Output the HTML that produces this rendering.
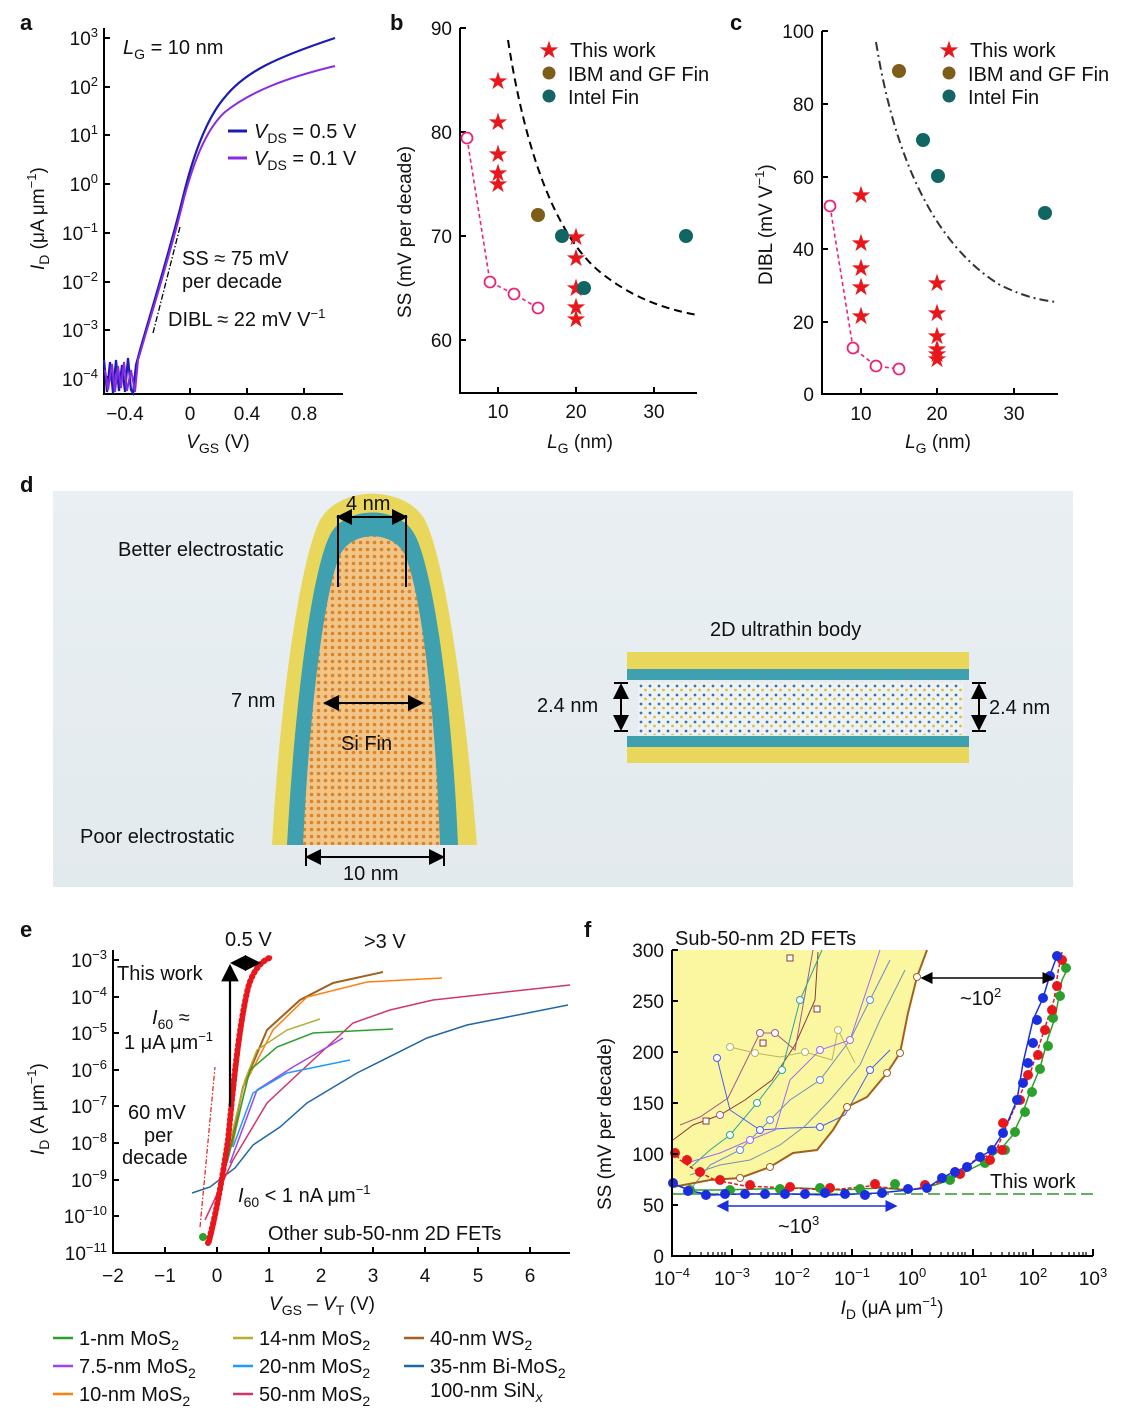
<!DOCTYPE html>
<html><head><meta charset="utf-8"><style>
html,body{margin:0;padding:0;background:#fff;}
svg{display:block;font-family:"Liberation Sans",Arial,sans-serif;}
</style></head><body>
<svg width="1132" height="1414" viewBox="0 0 1132 1414" xmlns="http://www.w3.org/2000/svg">
<defs>
<pattern id="dots" width="7" height="7" patternUnits="userSpaceOnUse"><rect width="7" height="7" fill="#f1c487"/><circle cx="3.5" cy="3.5" r="1.8" fill="#d9852a"/></pattern>
<pattern id="lat" width="9" height="9" patternUnits="userSpaceOnUse"><rect width="9" height="9" fill="#eef2f3"/><circle cx="2" cy="2" r="1.4" fill="#3a6fb0"/><circle cx="6.5" cy="6" r="1.4" fill="#d8c23a"/></pattern>
<linearGradient id="bg" x1="0" y1="0" x2="0" y2="1"><stop offset="0" stop-color="#e9eff2"/><stop offset="1" stop-color="#e3eaee"/></linearGradient>
<marker id="ah" markerWidth="8" markerHeight="8" refX="7" refY="4" orient="auto-start-reverse"><path d="M0,0 L8,4 L0,8 z" fill="#000"/></marker>
<marker id="ahb" markerWidth="8" markerHeight="8" refX="7" refY="4" orient="auto-start-reverse"><path d="M0,0 L8,4 L0,8 z" fill="#1a2ee0"/></marker>
</defs>
<g font-size="20" fill="#111">
<!-- Panel a -->
<text x="20" y="30" font-weight="bold" font-size="22">a</text>
<path d="M104,28 V394 H343" fill="none" stroke="#000" stroke-width="2"/>
<g stroke="#000" stroke-width="2">
<path d="M104,38 h6 M104,87 h6 M104,135 h6 M104,184 h6 M104,233 h6 M104,282 h6 M104,330 h6 M104,377 h6"/>
<path d="M190,394 v-6 M247,394 v-6 M304,394 v-6"/>
</g>
<g text-anchor="end" font-size="19">
<text x="98" y="45">10<tspan dy="-8" font-size="13">3</tspan></text>
<text x="98" y="94">10<tspan dy="-8" font-size="13">2</tspan></text>
<text x="98" y="142">10<tspan dy="-8" font-size="13">1</tspan></text>
<text x="98" y="191">10<tspan dy="-8" font-size="13">0</tspan></text>
<text x="98" y="240">10<tspan dy="-8" font-size="13">−1</tspan></text>
<text x="98" y="289">10<tspan dy="-8" font-size="13">−2</tspan></text>
<text x="98" y="337">10<tspan dy="-8" font-size="13">−3</tspan></text>
<text x="98" y="386">10<tspan dy="-8" font-size="13">−4</tspan></text>
</g>
<g text-anchor="middle" font-size="19">
<text x="125" y="420">−0.4</text><text x="190" y="420">0</text><text x="247" y="420">0.4</text><text x="304" y="420">0.8</text>
<text x="218" y="448"><tspan font-style="italic">V</tspan><tspan font-size="14" dy="5">GS</tspan><tspan dy="-5"> (V)</tspan></text>
</g>
<text transform="translate(44,270) rotate(-90)" font-size="19"><tspan font-style="italic">I</tspan><tspan font-size="14" dy="5">D</tspan><tspan dy="-5"> (μA μm</tspan><tspan font-size="13" dy="-8">−1</tspan><tspan dy="8">)</tspan></text>
<text x="123" y="54" font-size="20"><tspan font-style="italic">L</tspan><tspan font-size="14" dy="5">G</tspan><tspan dy="-5"> = 10 nm</tspan></text>
<path d="M104,360 L107,392 L110,362 L113,393 L116,360 L119,391 L122,365 L125,392 L128,358 L131,390 L133,393 L136,365 L140,350 C150,315 170,250 183,197 C192,160 205,120 225,97 C245,72 275,58 335,38" fill="none" stroke="#1c1cb0" stroke-width="2.2"/>
<path d="M105,370 L108,390 L112,364 L115,392 L118,366 L121,388 L124,362 L127,391 L131,370 L135,392 L138,360 L141,350 C151,315 171,252 184,198 C193,165 205,130 225,112 C250,92 285,78 335,66" fill="none" stroke="#8a2be2" stroke-width="2"/>
<path d="M180,227 L153,333" stroke="#000" stroke-width="1.3" stroke-dasharray="6,2,1.5,2"/>
<path d="M228,131 h19" stroke="#1c1cb0" stroke-width="3"/>
<path d="M228,158 h19" stroke="#8a2be2" stroke-width="3"/>
<text x="254" y="138"><tspan font-style="italic">V</tspan><tspan font-size="14" dy="5">DS</tspan><tspan dy="-5"> = 0.5 V</tspan></text>
<text x="254" y="165"><tspan font-style="italic">V</tspan><tspan font-size="14" dy="5">DS</tspan><tspan dy="-5"> = 0.1 V</tspan></text>
<text x="182" y="265">SS ≈ 75 mV</text>
<text x="182" y="288">per decade</text>
<text x="168" y="326">DIBL ≈ 22 mV V<tspan font-size="13" dy="-8">−1</tspan></text>

<!-- Panel b -->
<text x="390" y="30" font-weight="bold" font-size="22">b</text>
<path d="M460,28 V393 H697" fill="none" stroke="#000" stroke-width="2"/>
<g stroke="#000" stroke-width="2"><path d="M460,28 h6 M460,132 h6 M460,236 h6 M460,340 h6 M498,393 v-6 M576,393 v-6 M654,393 v-6"/></g>
<g text-anchor="end" font-size="19"><text x="452" y="35">90</text><text x="452" y="139">80</text><text x="452" y="243">70</text><text x="452" y="347">60</text></g>
<g text-anchor="middle" font-size="19"><text x="498" y="418">10</text><text x="576" y="418">20</text><text x="654" y="418">30</text>
<text x="580" y="448"><tspan font-style="italic">L</tspan><tspan font-size="14" dy="5">G</tspan><tspan dy="-5"> (nm)</tspan></text></g>
<text transform="translate(411,318) rotate(-90)" font-size="19">SS (mV per decade)</text>
<path d="M508,40 C525,150 555,235 600,272 C630,296 660,308 697,315" fill="none" stroke="#000" stroke-width="2" stroke-dasharray="8,5"/>
<path d="M467,138 L490,282 L514,294 L538,308" fill="none" stroke="#e8257a" stroke-width="1.6" stroke-dasharray="4,3"/>
<g fill="#fff" stroke="#e8257a" stroke-width="1.8"><circle cx="467" cy="138" r="5.5"/><circle cx="490" cy="282" r="5.5"/><circle cx="514" cy="294" r="5.5"/><circle cx="538" cy="308" r="5.5"/></g>
<g fill="#e8171c" font-size="24" text-anchor="middle">
<text x="498" y="89">★</text><text x="498" y="130">★</text><text x="498" y="162">★</text><text x="498" y="181">★</text><text x="498" y="192">★</text>
<text x="576" y="245">★</text><text x="576" y="266">★</text><text x="576" y="296">★</text><text x="576" y="315">★</text><text x="576" y="327">★</text>
<text x="549" y="58">★</text></g>
<circle cx="538" cy="215" r="7" fill="#7d5d18"/>
<g fill="#0f6663"><circle cx="562" cy="236" r="7"/><circle cx="584" cy="288" r="7"/><circle cx="686" cy="236" r="7"/><circle cx="549" cy="96" r="6.5"/></g>
<circle cx="549" cy="73" r="6.5" fill="#7d5d18"/>
<text x="570" y="57">This work</text><text x="568" y="81">IBM and GF Fin</text><text x="568" y="104">Intel Fin</text>

<!-- Panel c -->
<text x="730" y="30" font-weight="bold" font-size="22">c</text>
<path d="M822,31 V394 H1058" fill="none" stroke="#000" stroke-width="2"/>
<g stroke="#000" stroke-width="2"><path d="M822,31 h6 M822,104 h6 M822,177 h6 M822,249 h6 M822,322 h6 M861,394 v-6 M937,394 v-6 M1014,394 v-6"/></g>
<g text-anchor="end" font-size="19"><text x="814" y="38">100</text><text x="814" y="111">80</text><text x="814" y="184">60</text><text x="814" y="256">40</text><text x="814" y="329">20</text><text x="814" y="401">0</text></g>
<g text-anchor="middle" font-size="19"><text x="861" y="420">10</text><text x="937" y="420">20</text><text x="1014" y="420">30</text>
<text x="938" y="448"><tspan font-style="italic">L</tspan><tspan font-size="14" dy="5">G</tspan><tspan dy="-5"> (nm)</tspan></text></g>
<text transform="translate(772,285) rotate(-90)" font-size="19">DIBL (mV V<tspan font-size="13" dy="-8">−1</tspan><tspan dy="8">)</tspan></text>
<path d="M876,42 C895,160 935,245 1000,285 C1025,297 1040,300 1056,302" fill="none" stroke="#333" stroke-width="2" stroke-dasharray="9,4,2,4"/>
<path d="M830,206 L853,348 L876,366 L899,369" fill="none" stroke="#e8257a" stroke-width="1.6" stroke-dasharray="4,3"/>
<g fill="#fff" stroke="#e8257a" stroke-width="1.8"><circle cx="830" cy="206" r="5.5"/><circle cx="853" cy="348" r="5.5"/><circle cx="876" cy="366" r="5.5"/><circle cx="899" cy="369" r="5.5"/></g>
<g fill="#e8171c" font-size="24" text-anchor="middle">
<text x="861" y="203">★</text><text x="861" y="251">★</text><text x="861" y="276">★</text><text x="861" y="295">★</text><text x="861" y="324">★</text>
<text x="937" y="291">★</text><text x="937" y="321">★</text><text x="937" y="344">★</text><text x="937" y="357">★</text><text x="937" y="362">★</text><text x="937" y="367">★</text>
<text x="949" y="58">★</text></g>
<circle cx="899" cy="71" r="7" fill="#7d5d18"/>
<g fill="#0f6663"><circle cx="923" cy="140" r="7"/><circle cx="938" cy="176" r="7"/><circle cx="1045" cy="213" r="7"/><circle cx="949" cy="96" r="6.5"/></g>
<circle cx="949" cy="73" r="6.5" fill="#7d5d18"/>
<text x="970" y="57">This work</text><text x="968" y="81">IBM and GF Fin</text><text x="968" y="104">Intel Fin</text>

<!-- Panel d -->
<text x="20" y="492" font-weight="bold" font-size="22">d</text>
<rect x="53" y="491" width="1020" height="396" fill="url(#bg)"/>
<path d="M272,845 C280,700 300,560 320,520 C340,485 405,485 425,520 C445,560 465,700 477,845 Z" fill="#e8d75a"/>
<path d="M287,845 C295,700 312,570 330,535 C345,505 400,505 415,535 C433,570 452,700 458,845 Z" fill="#3fa0b0"/>
<path d="M303,845 C310,700 325,590 340,555 C352,530 393,530 405,555 C420,590 435,700 440,845 Z" fill="url(#dots)"/>
<g stroke="#000" stroke-width="2" fill="none">
<path d="M338,517 h68" marker-start="url(#ah)" marker-end="url(#ah)"/><path d="M338,515 v72 M406,515 v72"/>
<path d="M325,703 h97" marker-start="url(#ah)" marker-end="url(#ah)"/>
<path d="M307,857 h136" marker-start="url(#ah)" marker-end="url(#ah)"/><path d="M306,848 v18 M444,848 v18"/>
<path d="M621,685 v44" marker-start="url(#ah)" marker-end="url(#ah)"/><path d="M614,683 h14 M614,731 h14"/>
<path d="M979,685 v44" marker-start="url(#ah)" marker-end="url(#ah)"/><path d="M972,683 h14 M972,731 h14"/>
</g>
<text x="346" y="510">4 nm</text>
<text x="118" y="556">Better electrostatic</text>
<text x="231" y="707">7 nm</text>
<text x="341" y="750">Si Fin</text>
<text x="80" y="843">Poor electrostatic</text>
<text x="343" y="880">10 nm</text>
<text x="710" y="636">2D ultrathin body</text>
<rect x="627" y="652" width="342" height="17" fill="#e8d75a"/>
<rect x="627" y="669" width="342" height="11" fill="#3fa0b0"/>
<rect x="638" y="682" width="325" height="53" fill="url(#lat)"/>
<rect x="627" y="736" width="342" height="11" fill="#3fa0b0"/>
<rect x="627" y="747" width="342" height="16" fill="#e8d75a"/>
<text x="537" y="712">2.4 nm</text>
<text x="989" y="714">2.4 nm</text>

<!-- Panel e -->
<text x="20" y="937" font-weight="bold" font-size="22">e</text>
<path d="M113,950 V1253 H570" fill="none" stroke="#000" stroke-width="2"/>
<g stroke="#000" stroke-width="2"><path d="M113,960 h6 M113,997 h6 M113,1033 h6 M113,1070 h6 M113,1106 h6 M113,1143 h6 M113,1180 h6 M113,1216 h6 M165,1253 v-6 M217,1253 v-6 M269,1253 v-6 M321,1253 v-6 M373,1253 v-6 M425,1253 v-6 M478,1253 v-6 M530,1253 v-6"/></g>
<g text-anchor="end" font-size="19">
<text x="107" y="967">10<tspan dy="-8" font-size="13">−3</tspan></text>
<text x="107" y="1004">10<tspan dy="-8" font-size="13">−4</tspan></text>
<text x="107" y="1040">10<tspan dy="-8" font-size="13">−5</tspan></text>
<text x="107" y="1077">10<tspan dy="-8" font-size="13">−6</tspan></text>
<text x="107" y="1113">10<tspan dy="-8" font-size="13">−7</tspan></text>
<text x="107" y="1150">10<tspan dy="-8" font-size="13">−8</tspan></text>
<text x="107" y="1187">10<tspan dy="-8" font-size="13">−9</tspan></text>
<text x="107" y="1223">10<tspan dy="-8" font-size="13">−10</tspan></text>
<text x="107" y="1260">10<tspan dy="-8" font-size="13">−11</tspan></text>
</g>
<g text-anchor="middle" font-size="19"><text x="113" y="1282">−2</text><text x="165" y="1282">−1</text><text x="217" y="1282">0</text><text x="269" y="1282">1</text><text x="321" y="1282">2</text><text x="373" y="1282">3</text><text x="425" y="1282">4</text><text x="478" y="1282">5</text><text x="530" y="1282">6</text>
<text x="322" y="1310"><tspan font-style="italic">V</tspan><tspan font-size="14" dy="5">GS</tspan><tspan dy="-5"> – </tspan><tspan font-style="italic">V</tspan><tspan font-size="14" dy="5">T</tspan><tspan dy="-5"> (V)</tspan></text></g>
<text transform="translate(44,1155) rotate(-90)" font-size="19"><tspan font-style="italic">I</tspan><tspan font-size="14" dy="5">D</tspan><tspan dy="-5"> (A μm</tspan><tspan font-size="13" dy="-8">−1</tspan><tspan dy="8">)</tspan></text>
<g fill="none" stroke-width="1.5">
<path d="M192,1193 L210,1187 L235,1168 L253,1145 L280,1127 L307,1103 L357,1073 L427,1038 L467,1025 L568,1005" stroke="#2067a8"/>
<path d="M205,1220 L233,1160 L267,1103 L313,1060 L353,1023 L390,1010 L433,1000 L570,985" stroke="#d1356e"/>
<path d="M228,1157 L243,1087 L267,1030 L300,1000 L333,983 L383,972" stroke="#a0621e" stroke-width="2"/>
<path d="M232,1147 L247,1080 L273,1030 L307,997 L367,982 L442,978" stroke="#ff7f0e"/>
<path d="M228,1150 L245,1080 L257,1050 L287,1030 L320,1019" stroke="#b5ae35"/>
<path d="M227,1163 L250,1070 L277,1047 L313,1033 L393,1029" stroke="#2ca02c"/>
<path d="M230,1163 L257,1090 L293,1067 L343,1038" stroke="#9b45f0"/>
<path d="M233,1147 L253,1093 L287,1073 L350,1060" stroke="#1e9bff"/>
</g>
<path d="M200,1227 L215,1067" stroke="#e8171c" stroke-width="1.2" stroke-dasharray="5,2,1.5,2"/>
<path d="M208,1243 C215,1220 222,1180 228,1140 C233,1090 238,1030 248,988 C253,970 262,960 272,957" fill="none" stroke="#e8171c" stroke-width="6" stroke-dasharray="1,4" stroke-linecap="round"/>
<path d="M210,1243 C216,1220 223,1180 229,1140 C234,1090 240,1030 249,988 C254,970 262,960 272,957" fill="none" stroke="#e8171c" stroke-width="3"/>
<circle cx="203" cy="1237" r="4" fill="#2ca02c"/>
<path d="M230,1107 V966" stroke="#000" stroke-width="2.2" marker-end="url(#ah)"/>
<path d="M232,963 H259" stroke="#000" stroke-width="2" marker-start="url(#ah)" marker-end="url(#ah)"/>
<text x="225" y="946">0.5 V</text><text x="364" y="948">&gt;3 V</text>
<text x="117" y="980">This work</text>
<text x="152" y="1024" font-style="italic">I<tspan font-style="normal" font-size="14" dy="5">60</tspan><tspan font-style="normal" dy="-5"> ≈</tspan></text>
<text x="124" y="1049">1 μA μm<tspan font-size="13" dy="-8">−1</tspan></text>
<text x="128" y="1119">60 mV</text><text x="144" y="1142">per</text><text x="122" y="1164">decade</text>
<text x="238" y="1202" font-style="italic">I<tspan font-style="normal" font-size="14" dy="5">60</tspan><tspan font-style="normal" dy="-5"> &lt; 1 nA μm</tspan><tspan font-style="normal" font-size="13" dy="-8">−1</tspan></text>
<text x="268" y="1240">Other sub-50-nm 2D FETs</text>
<!-- legend -->
<g stroke-width="2.5">
<path d="M53,1338 h20" stroke="#2ca02c"/><path d="M53,1366 h20" stroke="#9b45f0"/><path d="M53,1394 h20" stroke="#ff7f0e"/>
<path d="M233,1338 h20" stroke="#b5ae35"/><path d="M233,1366 h20" stroke="#1e9bff"/><path d="M233,1394 h20" stroke="#d1356e"/>
<path d="M404,1338 h20" stroke="#a0621e"/><path d="M404,1366 h20" stroke="#2067a8"/>
</g>
<text x="79" y="1345">1-nm MoS<tspan font-size="14" dy="5">2</tspan></text>
<text x="79" y="1373">7.5-nm MoS<tspan font-size="14" dy="5">2</tspan></text>
<text x="79" y="1401">10-nm MoS<tspan font-size="14" dy="5">2</tspan></text>
<text x="259" y="1345">14-nm MoS<tspan font-size="14" dy="5">2</tspan></text>
<text x="259" y="1373">20-nm MoS<tspan font-size="14" dy="5">2</tspan></text>
<text x="259" y="1401">50-nm MoS<tspan font-size="14" dy="5">2</tspan></text>
<text x="430" y="1345">40-nm WS<tspan font-size="14" dy="5">2</tspan></text>
<text x="430" y="1373">35-nm Bi-MoS<tspan font-size="14" dy="5">2</tspan></text>
<text x="430" y="1397">100-nm SiN<tspan font-size="14" dy="5" font-style="italic">x</tspan></text>

<!-- Panel f -->
<text x="584" y="937" font-weight="bold" font-size="22">f</text>
<path d="M673,950 L927,950 L917,977 L908,1013 L900,1053 L887,1073 L867,1097 L847,1107 L833,1130 L817,1150 L793,1153 L770,1167 L740,1178 L710,1180 L673,1187 Z" fill="#fbf7a0"/>
<g fill="none" stroke-width="1">
<path d="M673,1140 L693,1125 L720,1115 L745,1100 L772,1080 L795,1045 L815,1000 L818,952" stroke="#8b3a3a"/>
<path d="M680,1125 L700,1117 L728,1098 L760,1033 L775,1033 L795,1050 L813,950" stroke="#a05a90"/>
<path d="M730,1047 L755,1053 L780,1057 L805,1052 L832,1060 L838,1030 L855,1063" stroke="#b9b36a"/>
<path d="M690,1168 L710,1150 L730,1135 L757,1103 L782,1070 L800,1000 L822,950" stroke="#2aa59b"/>
<path d="M717,1058 L730,1110 L760,1130 L790,1128 L820,1127 L845,1115 L870,1070 L890,1050" stroke="#4a5ef0"/>
<path d="M690,1162 L720,1153 L750,1140 L775,1130 L790,1080 L820,1050 L850,1040 L880,950" stroke="#a06af0"/>
<path d="M690,1190 L710,1165 L740,1150 L770,1120 L790,1100 L820,1080 L850,1040 L870,1000 L890,960" stroke="#6a8bd0"/>
<path d="M690,1175 L720,1165 L750,1160 L780,1145 L805,1126 L830,1100 L860,1065 L880,1020 L905,970" stroke="#7a8fb0"/>
<path d="M673,1187 L710,1180 L740,1178 L770,1167 L793,1153 L817,1150 L833,1130 L847,1107 L867,1097 L887,1073 L900,1053 L908,1013 L917,977 L927,950" stroke="#a0621e" stroke-width="2"/>
</g>
<g fill="#fff" stroke-width="1">
<g stroke="#8b3a3a"><rect x="703" y="1118" width="6" height="6"/><rect x="760" y="1040" width="6" height="6"/><rect x="814" y="1006" width="6" height="6"/><rect x="787" y="955" width="6" height="6"/></g>
<g stroke="#a05a90"><circle cx="760" cy="1033" r="3.5"/><circle cx="775" cy="1033" r="3.5"/><circle cx="720" cy="1115" r="3.5"/></g>
<g stroke="#b9b36a"><circle cx="730" cy="1047" r="3.5"/><circle cx="755" cy="1053" r="3.5"/><circle cx="805" cy="1052" r="3.5"/><circle cx="838" cy="1030" r="3.5"/></g>
<g stroke="#2aa59b"><circle cx="730" cy="1135" r="3.5"/><circle cx="757" cy="1103" r="3.5"/><circle cx="782" cy="1070" r="3.5"/><circle cx="800" cy="1000" r="3.5"/></g>
<g stroke="#4a5ef0"><circle cx="760" cy="1130" r="3.5"/><circle cx="820" cy="1127" r="3.5"/><circle cx="870" cy="1070" r="3.5"/><circle cx="717" cy="1058" r="3.5"/></g>
<g stroke="#a06af0"><circle cx="750" cy="1140" r="3.5"/><circle cx="820" cy="1050" r="3.5"/><circle cx="850" cy="1040" r="3.5"/></g>
<g stroke="#6a8bd0"><circle cx="770" cy="1120" r="3.5"/><circle cx="820" cy="1080" r="3.5"/><circle cx="870" cy="1000" r="3.5"/><circle cx="740" cy="1150" r="3.5"/></g>
<g stroke="#a0621e"><circle cx="847" cy="1107" r="3.5"/><circle cx="900" cy="1053" r="3.5"/><circle cx="770" cy="1167" r="3.5"/><circle cx="740" cy="1178" r="3.5"/><circle cx="917" cy="977" r="3.5"/><circle cx="887" cy="1073" r="3.5"/></g>
</g>
<path d="M673,1194 H1093" stroke="#2a9a2a" stroke-width="1.5" stroke-dasharray="12,5"/>
<g stroke-width="1.5" fill="none">
<path d="M673,1184 L690,1190 L720,1190 L760,1189 L800,1188 L840,1190 L880,1188 L910,1190 L935,1185 L950,1180 L965,1172 L985,1162 L1000,1150 L1012,1136 L1022,1115 L1030,1092 L1040,1068 L1048,1038 L1055,1018 L1062,980 L1068,968" stroke="#2ca02c"/>
<path d="M673,1150 L680,1160 L695,1170 L715,1180 L745,1186 L790,1188 L830,1190 L870,1186 L910,1190 L930,1186 L955,1175 L975,1160 L995,1153 L1008,1123 L1020,1095 L1030,1074 L1040,1043 L1048,1018 L1054,1000 L1058,972 L1062,952" stroke="#e8171c" stroke-dasharray="4,2"/>
<path d="M673,1183 L690,1191 L712,1195 L740,1194 L790,1194 L830,1195 L880,1193 L908,1190 L927,1188 L942,1178 L953,1172 L967,1167 L980,1157 L992,1150 L1003,1133 L1017,1100 L1023,1063 L1033,1020 L1043,998 L1050,975 L1057,956" stroke="#1a2ee0"/>
</g>
<g fill="#2ca02c"><circle cx="690" cy="1190" r="5"/><circle cx="730" cy="1190" r="5"/><circle cx="780" cy="1189" r="5"/><circle cx="820" cy="1188" r="5"/><circle cx="860" cy="1189" r="5"/><circle cx="895" cy="1184" r="5"/><circle cx="950" cy="1180" r="5"/><circle cx="985" cy="1163" r="5"/><circle cx="1005" cy="1150" r="5"/><circle cx="1015" cy="1132" r="5"/><circle cx="1025" cy="1112" r="5"/><circle cx="1032" cy="1092" r="5"/><circle cx="1040" cy="1069" r="5"/><circle cx="1048" cy="1046" r="5"/><circle cx="1053" cy="1018" r="5"/><circle cx="1060" cy="996" r="5"/><circle cx="1066" cy="968" r="5"/></g>
<g fill="#e8171c"><circle cx="675" cy="1153" r="5"/><circle cx="687" cy="1160" r="5"/><circle cx="700" cy="1172" r="5"/><circle cx="720" cy="1180" r="5"/><circle cx="750" cy="1185" r="5"/><circle cx="790" cy="1187" r="5"/><circle cx="830" cy="1188" r="5"/><circle cx="875" cy="1184" r="5"/><circle cx="925" cy="1185" r="5"/><circle cx="960" cy="1174" r="5"/><circle cx="990" cy="1160" r="5"/><circle cx="1002" cy="1150" r="5"/><circle cx="1003" cy="1123" r="5"/><circle cx="1020" cy="1100" r="5"/><circle cx="1028" cy="1075" r="5"/><circle cx="1038" cy="1055" r="5"/><circle cx="1045" cy="1030" r="5"/><circle cx="1052" cy="1010" r="5"/><circle cx="1057" cy="986" r="5"/><circle cx="1062" cy="960" r="5"/></g>
<g fill="#1a2ee0"><circle cx="673" cy="1183" r="5"/><circle cx="688" cy="1191" r="5"/><circle cx="706" cy="1195" r="5"/><circle cx="725" cy="1194" r="5"/><circle cx="745" cy="1194" r="5"/><circle cx="765" cy="1194" r="5"/><circle cx="785" cy="1194" r="5"/><circle cx="805" cy="1194" r="5"/><circle cx="825" cy="1193" r="5"/><circle cx="845" cy="1194" r="5"/><circle cx="865" cy="1195" r="5"/><circle cx="882" cy="1193" r="5"/><circle cx="908" cy="1189" r="5"/><circle cx="927" cy="1188" r="5"/><circle cx="942" cy="1178" r="5"/><circle cx="955" cy="1172" r="5"/><circle cx="967" cy="1167" r="5"/><circle cx="980" cy="1157" r="5"/><circle cx="992" cy="1150" r="5"/><circle cx="1003" cy="1133" r="5"/><circle cx="1017" cy="1100" r="5"/><circle cx="1023" cy="1083" r="5"/><circle cx="1028" cy="1063" r="5"/><circle cx="1033" cy="1043" r="5"/><circle cx="1037" cy="1020" r="5"/><circle cx="1043" cy="998" r="5"/><circle cx="1050" cy="976" r="5"/><circle cx="1057" cy="956" r="5"/></g>
<path d="M672,950 V1256 H1093" fill="none" stroke="#000" stroke-width="2"/>
<g stroke="#000" stroke-width="2"><path d="M672,950 h6 M672,1001 h6 M672,1052 h6 M672,1103 h6 M672,1154 h6 M672,1205 h6 M732,1256 v-7 M792,1256 v-7 M852,1256 v-7 M912,1256 v-7 M973,1256 v-7 M1033,1256 v-7 M1093,1256 v-7"/></g>
<g stroke="#000" stroke-width="1.2"><path d="M690,1256 v-4 M701,1256 v-4 M708,1256 v-4 M713,1256 v-4 M718,1256 v-4 M722,1256 v-4 M725,1256 v-4 M750,1256 v-4 M761,1256 v-4 M768,1256 v-4 M773,1256 v-4 M778,1256 v-4 M782,1256 v-4 M785,1256 v-4 M810,1256 v-4 M821,1256 v-4 M828,1256 v-4 M833,1256 v-4 M838,1256 v-4 M842,1256 v-4 M845,1256 v-4 M870,1256 v-4 M881,1256 v-4 M888,1256 v-4 M893,1256 v-4 M898,1256 v-4 M902,1256 v-4 M905,1256 v-4 M930,1256 v-4 M941,1256 v-4 M948,1256 v-4 M953,1256 v-4 M958,1256 v-4 M962,1256 v-4 M965,1256 v-4 M991,1256 v-4 M1002,1256 v-4 M1009,1256 v-4 M1014,1256 v-4 M1019,1256 v-4 M1023,1256 v-4 M1026,1256 v-4 M1051,1256 v-4 M1062,1256 v-4 M1069,1256 v-4 M1074,1256 v-4 M1079,1256 v-4 M1083,1256 v-4 M1086,1256 v-4"/></g>
<g text-anchor="end" font-size="19"><text x="664" y="957">300</text><text x="664" y="1008">250</text><text x="664" y="1059">200</text><text x="664" y="1110">150</text><text x="664" y="1161">100</text><text x="664" y="1212">50</text><text x="664" y="1263">0</text></g>
<g text-anchor="middle" font-size="19">
<text x="672" y="1285">10<tspan dy="-8" font-size="13">−4</tspan></text>
<text x="732" y="1285">10<tspan dy="-8" font-size="13">−3</tspan></text>
<text x="792" y="1285">10<tspan dy="-8" font-size="13">−2</tspan></text>
<text x="852" y="1285">10<tspan dy="-8" font-size="13">−1</tspan></text>
<text x="912" y="1285">10<tspan dy="-8" font-size="13">0</tspan></text>
<text x="973" y="1285">10<tspan dy="-8" font-size="13">1</tspan></text>
<text x="1033" y="1285">10<tspan dy="-8" font-size="13">2</tspan></text>
<text x="1093" y="1285">10<tspan dy="-8" font-size="13">3</tspan></text>
<text x="892" y="1314"><tspan font-style="italic">I</tspan><tspan font-size="14" dy="5">D</tspan><tspan dy="-5"> (μA μm</tspan><tspan font-size="13" dy="-8">−1</tspan><tspan dy="8">)</tspan></text></g>
<text transform="translate(611,1210) rotate(-90)" font-size="19">SS (mV per decade)</text>
<text x="675" y="945">Sub-50-nm 2D FETs</text>
<path d="M922,978 H1053" stroke="#000" stroke-width="1.5" marker-start="url(#ah)" marker-end="url(#ah)"/>
<text x="960" y="1005">~10<tspan dy="-8" font-size="13">2</tspan></text>
<path d="M718,1206 H896" stroke="#1a2ee0" stroke-width="1.5" marker-start="url(#ahb)" marker-end="url(#ahb)"/>
<text x="778" y="1233">~10<tspan dy="-8" font-size="13">3</tspan></text>
<text x="990" y="1188">This work</text>
</g>
</svg>
</body></html>
